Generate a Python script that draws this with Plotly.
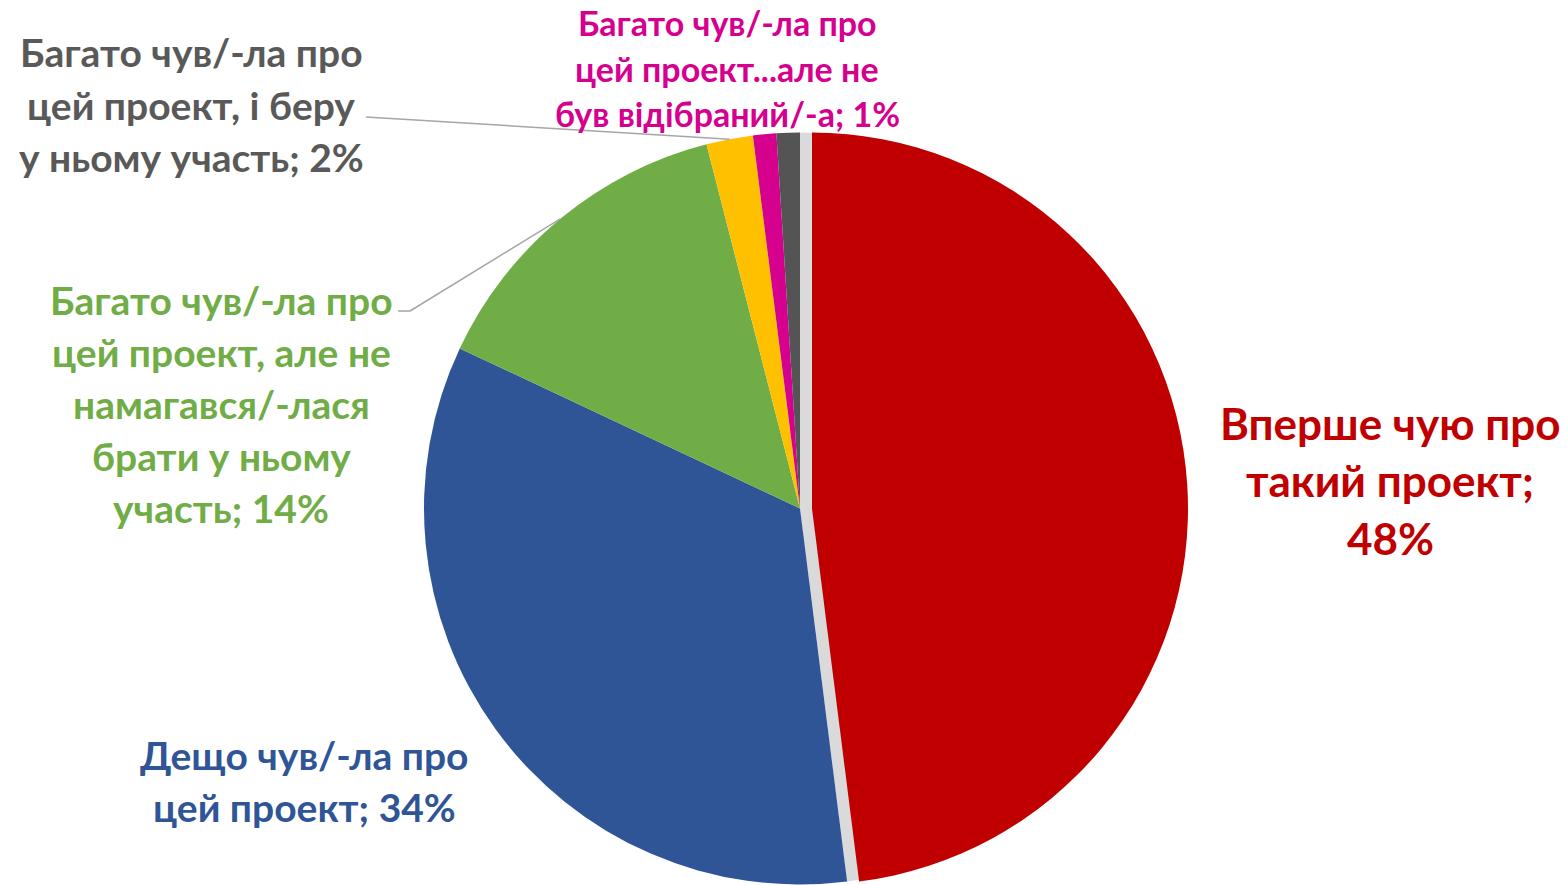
import math
import plotly.graph_objects as go

# ---- data ----
categories = [
    "Вперше чую про такий проект",
    "Дещо чув/-ла про цей проект",
    "Багато чув/-ла про цей проект, але не намагався/-лася брати у ньому участь",
    "Багато чув/-ла про цей проект, і беру у ньому участь",
    "Багато чув/-ла про цей проект...але не був відібраний/-а",
    "Інше",
]
values = [48, 34, 14, 2, 1, 1]
colors = ["#C00000", "#2F5597", "#70AD47", "#FFC000", "#D6008F", "#545454"]

label_lines = [
    ["Вперше чую про", "такий проект;", "48%"],
    ["Дещо чув/-ла про", "цей проект; 34%"],
    ["Багато чув/-ла про", "цей проект, але не", "намагався/-лася", "брати у ньому", "участь; 14%"],
    ["Багато чув/-ла про", "цей проект, і беру", "у ньому участь; 2%"],
    ["Багато чув/-ла про", "цей проект...але не", "був відібраний/-а; 1%"],
    None,
]
label_colors = ["#C00000", "#2F5597", "#70AD47", "#595959", "#D6008F", None]

# ---- layout constants (pixels) ----
W, H = 1568, 885
CX, CY, R = 800, 508.5, 376
PULL_PX = 12
label_pos = [  # centre x, centre y, font size, line spacing
    (1390, 480, 44, 57.5),
    (304, 781, 39, 52),
    (221, 404, 39, 52),
    (191, 105, 39, 52.5),
    (727, 68, 34, 46),
    None,
]

def px(x):
    return x / W

def py(y):
    return 1 - y / H

dom_y = [max(0.0, py(CY + R)), py(CY - R)]
half_w = 0.45
dom_x = [px(CX) - half_w, px(CX) + half_w]
dom_x_red = [d + PULL_PX / W for d in dom_x]

base_colors = ["#DADADA"] + colors[1:]
red_colors = [colors[0]] + ["rgba(0,0,0,0)"] * (len(values) - 1)

fig = go.Figure()
fig.add_trace(go.Pie(
    labels=categories, values=values, sort=False, direction="clockwise", rotation=0,
    marker=dict(colors=base_colors, line=dict(width=0)),
    textinfo="none", hoverinfo="label+percent", showlegend=False,
    domain=dict(x=dom_x, y=dom_y),
))
fig.add_trace(go.Pie(
    labels=categories, values=values, sort=False, direction="clockwise", rotation=0,
    marker=dict(colors=red_colors, line=dict(width=0)),
    textinfo="none", hoverinfo="skip", showlegend=False,
    domain=dict(x=dom_x_red, y=dom_y),
))

# labels
for lines, col, pos in zip(label_lines, label_colors, label_pos):
    if lines is None:
        continue
    x0, y0, fs, ls = pos
    n = len(lines)
    for i, t in enumerate(lines):
        yy = y0 + (i - (n - 1) / 2) * ls
        fig.add_annotation(
            x=px(x0), y=py(yy), xref="paper", yref="paper",
            text=t, showarrow=False, xanchor="center", yanchor="middle",
            font=dict(family="Lato", size=fs, color=col, weight="bold"),
        )

# leader lines to slice midpoints
total = sum(values)
cum = 0
mids = []
for v in values:
    mids.append((cum + v / 2) / total * 2 * math.pi)
    cum += v

def edge_point(i):
    a = mids[i]
    return CX + R * math.sin(a), CY - R * math.cos(a)

leaders = {
    2: [(398, 311), (410, 311)],
    3: [(366, 117)],
}
for i, pts in leaders.items():
    ex, ey = edge_point(i)
    path_pts = pts + [(ex, ey)]
    for (ax_, ay_), (bx_, by_) in zip(path_pts[:-1], path_pts[1:]):
        fig.add_shape(type="line", xref="paper", yref="paper",
                      x0=px(ax_), y0=py(ay_), x1=px(bx_), y1=py(by_),
                      line=dict(color="#A6A6A6", width=1.5))

fig.update_layout(
    width=W, height=H,
    margin=dict(l=0, r=0, t=0, b=0),
    paper_bgcolor="white", plot_bgcolor="white",
)
fig.write_html("out.html", config={"displayModeBar": False},
               post_script="document.body.style.margin='0';")
